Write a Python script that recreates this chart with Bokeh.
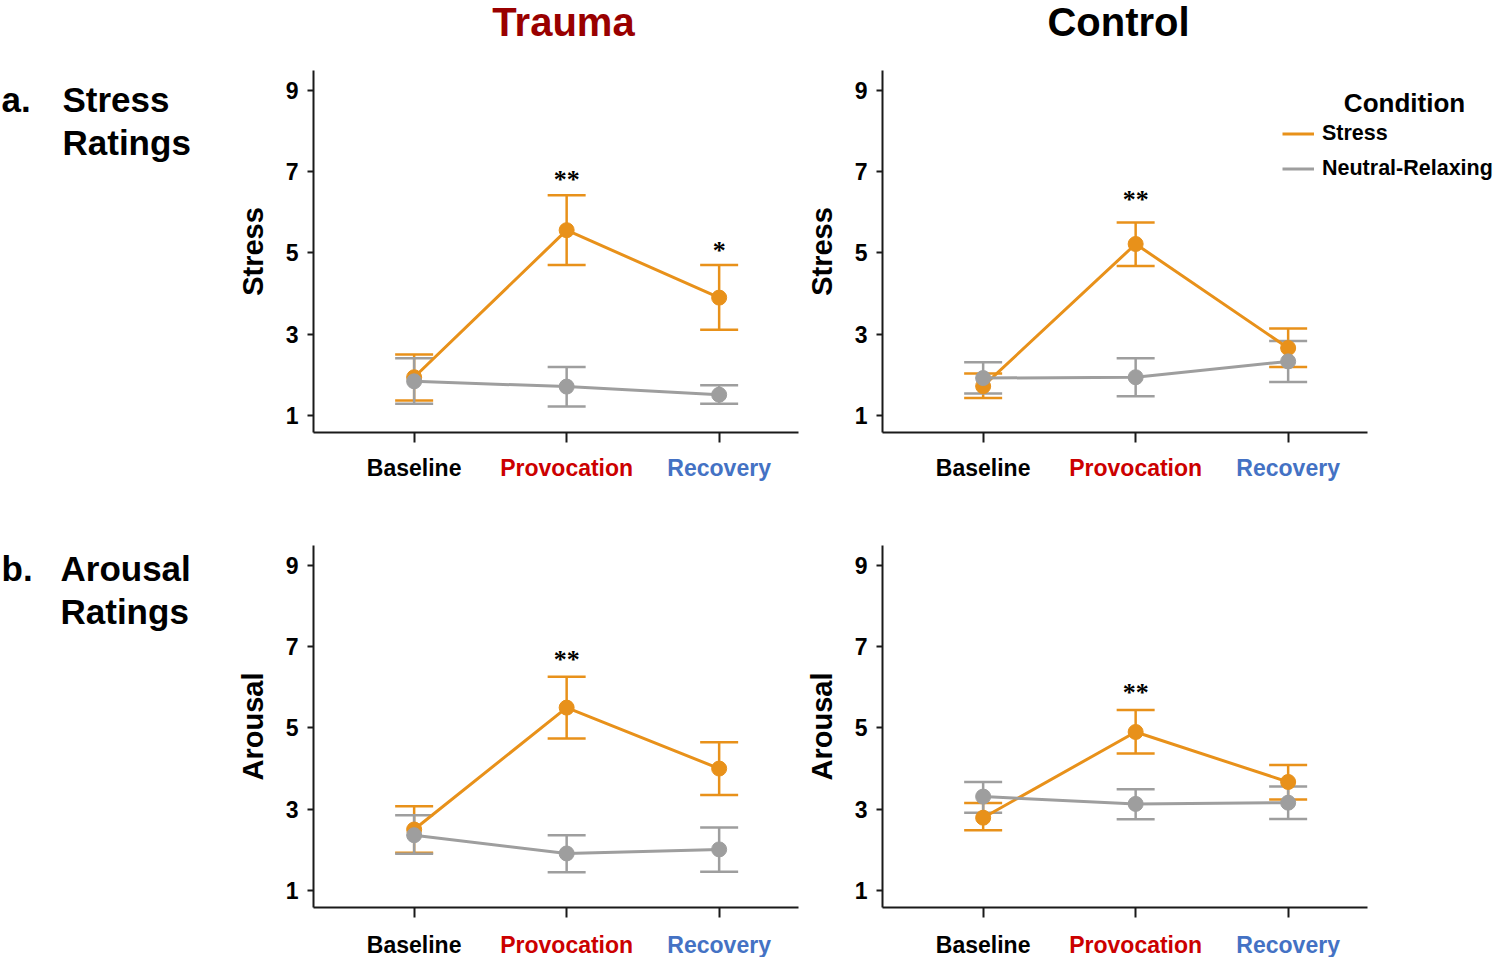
from bokeh.plotting import figure
from bokeh.models import (ColumnDataSource, Whisker, TeeHead, Label, LabelSet,
                          Legend, LegendItem, FixedTicker, Range1d)
from bokeh.layouts import column, row
from bokeh.core.properties import value
from bokeh.embed import file_html
from bokeh.resources import INLINE

# ---------------- data ----------------
phases = ["Baseline", "Provocation", "Recovery"]
phase_x = [1, 2, 3]
phase_colors = ["#000000", "#CC0000", "#4472C4"]
y_ticks = [1, 3, 5, 7, 9]
conditions = ["Stress", "Neutral-Relaxing"]
groups = ["Trauma", "Control"]
group_colors = ["#990000", "#000000"]

# a. Stress ratings - Trauma
tr_stress_stress_mean = [1.94, 5.56, 3.90]
tr_stress_stress_lo = [1.37, 4.70, 3.11]
tr_stress_stress_hi = [2.50, 6.42, 4.70]
tr_stress_neutral_mean = [1.84, 1.71, 1.51]
tr_stress_neutral_lo = [1.29, 1.22, 1.29]
tr_stress_neutral_hi = [2.41, 2.19, 1.74]
tr_stress_star_text = ["**", "*"]
tr_stress_star_x = [2, 3]
tr_stress_star_y = [6.80, 5.05]

# a. Stress ratings - Control
ct_stress_stress_mean = [1.72, 5.22, 2.66]
ct_stress_stress_lo = [1.43, 4.68, 2.19]
ct_stress_stress_hi = [2.03, 5.75, 3.14]
ct_stress_neutral_mean = [1.92, 1.94, 2.33]
ct_stress_neutral_lo = [1.54, 1.47, 1.82]
ct_stress_neutral_hi = [2.31, 2.41, 2.83]
ct_stress_star_text = ["**"]
ct_stress_star_x = [2]
ct_stress_star_y = [6.31]

# b. Arousal ratings - Trauma
tr_arousal_stress_mean = [2.50, 5.50, 4.00]
tr_arousal_stress_lo = [1.93, 4.74, 3.35]
tr_arousal_stress_hi = [3.07, 6.26, 4.65]
tr_arousal_neutral_mean = [2.36, 1.91, 2.01]
tr_arousal_neutral_lo = [1.90, 1.45, 1.46]
tr_arousal_neutral_hi = [2.85, 2.36, 2.55]
tr_arousal_star_text = ["**"]
tr_arousal_star_x = [2]
tr_arousal_star_y = [6.68]

# b. Arousal ratings - Control
ct_arousal_stress_mean = [2.79, 4.90, 3.67]
ct_arousal_stress_lo = [2.48, 4.37, 3.24]
ct_arousal_stress_hi = [3.15, 5.44, 4.09]
ct_arousal_neutral_mean = [3.31, 3.13, 3.16]
ct_arousal_neutral_lo = [2.91, 2.75, 2.76]
ct_arousal_neutral_hi = [3.67, 3.49, 3.56]
ct_arousal_star_text = ["**"]
ct_arousal_star_x = [2]
ct_arousal_star_y = [5.86]

# ---------------- style / geometry ----------------
ORANGE = "#E8911A"
GREY = "#9E9E9E"
AXIS = "#1a1a1a"
FONT = "Liberation Sans"
X0, X_AXIS_END = 0.34, 3.52
PX_PER_X = 152.5
Y0, Y1 = 0.58, 9.49
FRAME_H = 362

W_LEFT = 230
W_COL1 = 570
W_COL2 = 696
MBL1, MBR1 = 83, 2     # col 1: frame 313 .. 798
MBL2, MBR2 = 82, 0     # col 2: frame 882 .. 1496
H_TITLE = 50
MBB = 14


def blank_text_fig(width, height, x_range=None, y_range=None):
    p = figure(width=width, height=height, output_backend="svg",
               toolbar_location=None,
               x_range=x_range if x_range is not None else Range1d(0, width),
               y_range=y_range if y_range is not None else Range1d(height, 0),
               min_border=0, min_border_left=0, min_border_right=0,
               min_border_top=0, min_border_bottom=0)
    p.axis.visible = False
    p.grid.visible = False
    p.outline_line_color = None
    p.background_fill_color = "white"
    p.border_fill_color = "white"
    return p


def make_panel(width, height, mbl, mbr, mbt, ylabel,
               s_mean, s_lo, s_hi, n_mean, n_lo, n_hi,
               star_text, star_x, star_y):
    frame_w = width - mbl - mbr
    x_end = X0 + frame_w / PX_PER_X
    p = figure(width=width, height=height, output_backend="svg",
               toolbar_location=None,
               x_range=Range1d(X0, x_end), y_range=Range1d(Y0, Y1),
               min_border_left=mbl, min_border_right=mbr,
               min_border_top=mbt, min_border_bottom=MBB)
    p.outline_line_color = None
    p.grid.visible = False
    p.background_fill_color = "white"
    p.border_fill_color = "white"

    xa = p.xaxis[0]
    xa.ticker = FixedTicker(ticks=phase_x)
    xa.bounds = (X0, X_AXIS_END)
    xa.major_label_overrides = {1: "", 2: "", 3: ""}
    xa.major_label_text_font_size = "1px"
    xa.major_label_standoff = 0
    xa.major_tick_out = 10
    xa.major_tick_in = 0
    xa.minor_tick_line_color = None
    xa.axis_line_width = 2
    xa.axis_line_color = AXIS
    xa.major_tick_line_width = 2
    xa.major_tick_line_color = AXIS

    ya = p.yaxis[0]
    ya.ticker = FixedTicker(ticks=y_ticks)
    ya.major_tick_out = 6
    ya.major_tick_in = 0
    ya.minor_tick_line_color = None
    ya.axis_line_width = 2
    ya.axis_line_color = AXIS
    ya.major_tick_line_width = 2
    ya.major_tick_line_color = AXIS
    ya.major_label_text_font = FONT
    ya.major_label_text_font_style = "bold"
    ya.major_label_text_font_size = "23px"
    ya.major_label_text_color = "#000000"
    ya.major_label_standoff = 9
    ya.axis_label = ylabel
    ya.axis_label_text_font = FONT
    ya.axis_label_text_font_style = "bold"
    ya.axis_label_text_font_size = "29px"
    ya.axis_label_text_color = "#000000"
    ya.axis_label_standoff = 14

    renderers = []
    for mean, lo, hi, col in ((s_mean, s_lo, s_hi, ORANGE),
                              (n_mean, n_lo, n_hi, GREY)):
        src = ColumnDataSource(dict(x=phase_x, mean=mean, lo=lo, hi=hi))
        w = Whisker(source=src, base="x", upper="hi", lower="lo",
                    line_color=col, line_width=2.5,
                    upper_head=TeeHead(size=38, line_color=col, line_width=2.5),
                    lower_head=TeeHead(size=38, line_color=col, line_width=2.5))
        p.add_layout(w)
        ln = p.line("x", "mean", source=src, line_color=col, line_width=3)
        p.scatter("x", "mean", source=src, size=15, fill_color=col,
                  line_color=col)
        renderers.append(ln)

    star_src = ColumnDataSource(dict(x=star_x, y=star_y, t=star_text))
    p.add_layout(LabelSet(x="x", y="y", text="t", source=star_src,
                          text_align="center", text_baseline="middle",
                          text_font=FONT, text_font_style="bold",
                          text_font_size="26px", text_color="#000000"))
    return p, renderers


def category_fig(panel, width, height, mbl, mbr, label_y):
    p = blank_text_fig(width, height, x_range=panel.x_range,
                       y_range=Range1d(height, 0))
    p.min_border_left = mbl
    p.min_border_right = mbr
    src = ColumnDataSource(dict(x=phase_x, y=[label_y] * len(phase_x),
                                t=phases, c=phase_colors))
    p.text("x", "y", text="t", source=src, text_color="c",
           text_align="center", text_baseline="middle",
           text_font=value(FONT), text_font_style="bold",
           text_font_size=value("23px"))
    return p


def add_words(p, xs, ys, words, size, color="#000000", align="left"):
    p.text(x=xs, y=ys, text=words, text_color=color, text_align=align,
           text_baseline="middle", text_font=value(FONT),
           text_font_style="bold", text_font_size=value(size))


# ---------------- panels ----------------
H_A = 20 + FRAME_H + MBB          # 396  (page 50 .. 446)
H_B = 55 + FRAME_H + MBB          # 431  (page 490 .. 921)
H_LAB_A = 44
H_LAB_B = 36

p1, _ = make_panel(W_COL1, H_A, MBL1, MBR1, 20, "Stress",
                   tr_stress_stress_mean, tr_stress_stress_lo, tr_stress_stress_hi,
                   tr_stress_neutral_mean, tr_stress_neutral_lo, tr_stress_neutral_hi,
                   tr_stress_star_text, tr_stress_star_x, tr_stress_star_y)
p2, rr = make_panel(W_COL2, H_A, MBL2, MBR2, 20, "Stress",
                    ct_stress_stress_mean, ct_stress_stress_lo, ct_stress_stress_hi,
                    ct_stress_neutral_mean, ct_stress_neutral_lo, ct_stress_neutral_hi,
                    ct_stress_star_text, ct_stress_star_x, ct_stress_star_y)
p3, _ = make_panel(W_COL1, H_B, MBL1, MBR1, 55, "Arousal",
                   tr_arousal_stress_mean, tr_arousal_stress_lo, tr_arousal_stress_hi,
                   tr_arousal_neutral_mean, tr_arousal_neutral_lo, tr_arousal_neutral_hi,
                   tr_arousal_star_text, tr_arousal_star_x, tr_arousal_star_y)
p4, _ = make_panel(W_COL2, H_B, MBL2, MBR2, 55, "Arousal",
                   ct_arousal_stress_mean, ct_arousal_stress_lo, ct_arousal_stress_hi,
                   ct_arousal_neutral_mean, ct_arousal_neutral_lo, ct_arousal_neutral_hi,
                   ct_arousal_star_text, ct_arousal_star_x, ct_arousal_star_y)

c1 = category_fig(p1, W_COL1, H_LAB_A, MBL1, MBR1, 21)
c2 = category_fig(p2, W_COL2, H_LAB_A, MBL2, MBR2, 21)
c3 = category_fig(p3, W_COL1, H_LAB_B, MBL1, MBR1, 23)
c4 = category_fig(p4, W_COL2, H_LAB_B, MBL2, MBR2, 23)

# legend (inside the widened Control frame)
legend = Legend(items=[LegendItem(label=conditions[0], renderers=[rr[0]]),
                       LegendItem(label=conditions[1], renderers=[rr[1]])],
                location=(400, 251), orientation="vertical",
                border_line_color=None, background_fill_alpha=0,
                padding=0, margin=0, spacing=10,
                glyph_width=32, glyph_height=23, label_height=23,
                label_standoff=8, label_text_font=FONT,
                label_text_font_style="bold", label_text_font_size="21.5px",
                label_text_baseline="middle", label_text_color="#000000")
p2.add_layout(legend)
p2.add_layout(Label(x=X0 + (1404 - 882) / PX_PER_X,
                    y=Y0 + (432 - 102) / FRAME_H * (Y1 - Y0),
                    text="Condition", text_font=FONT, text_font_style="bold",
                    text_font_size="26px", text_color="#000000",
                    text_align="center", text_baseline="middle"))

# titles
t0 = blank_text_fig(W_LEFT, H_TITLE)
t1 = blank_text_fig(W_COL1, H_TITLE)
add_words(t1, [333], [21], [groups[0]], "40px", color=group_colors[0], align="center")
t2 = blank_text_fig(W_COL2, H_TITLE)
add_words(t2, [318], [21], [groups[1]], "40px", color=group_colors[1], align="center")

la = blank_text_fig(W_LEFT, H_A + H_LAB_A)
add_words(la, [1, 62, 62], [49, 49, 92], ["a.", "Stress", "Ratings"], "35px")
lb = blank_text_fig(W_LEFT, H_B + H_LAB_B)
add_words(lb, [1, 60, 60], [78, 78, 121], ["b.", "Arousal", "Ratings"], "35px")

layout = column(
    row(t0, t1, t2),
    row(la, column(p1, c1), column(p2, c2)),
    row(lb, column(p3, c3), column(p4, c4)),
)

open("out.html", "w").write(file_html(layout, INLINE))
